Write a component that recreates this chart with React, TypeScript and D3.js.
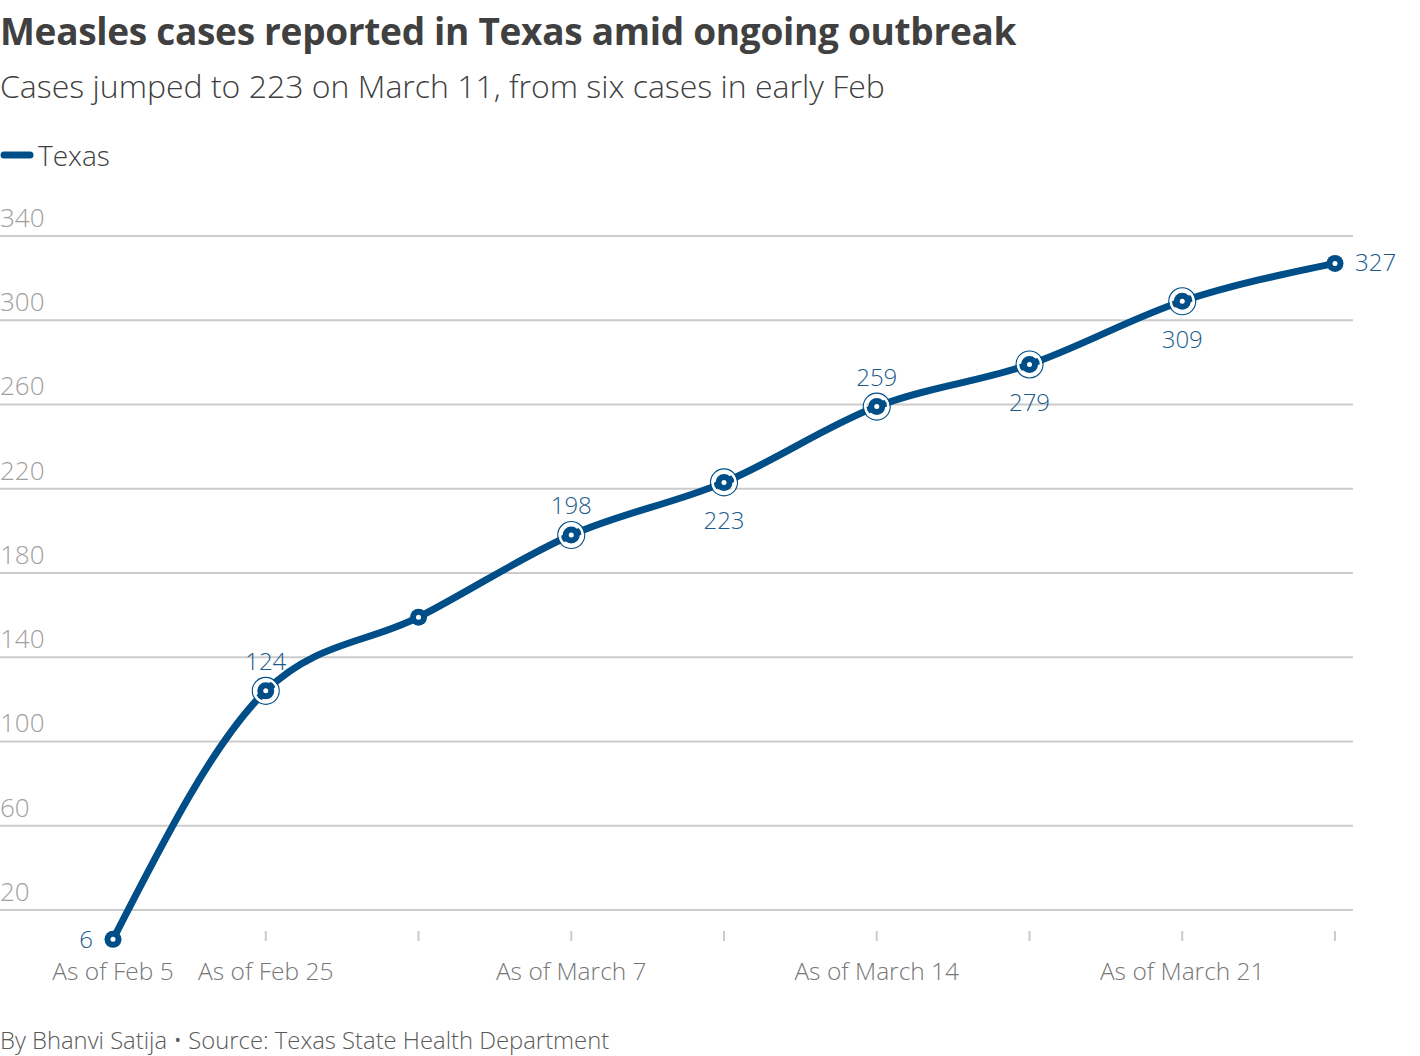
import React from "react";
import * as d3 from "d3";

// Reported measles cases in Texas, by report date
const categories = ["Feb 5", "Feb 25", "Mar 4", "Mar 7", "Mar 11", "Mar 14", "Mar 18", "Mar 21", "Mar 25"];
const cases = [6, 124, 159, 198, 223, 259, 279, 309, 327];
// Where each value label sits relative to its point ("" = no label)
const labelPlacement = ["left", "above", "", "above", "below", "above", "below", "below", "right"];
// X axis labels (only some report dates are labelled)
const xTickLabels = ["As of Feb 5", "As of Feb 25", "", "As of March 7", "", "As of March 14", "", "As of March 21", ""];
const yTicks = [20, 60, 100, 140, 180, 220, 260, 300, 340];

const W = 1420;
const H = 1056;
const BLUE = "#004e87";
const LABEL_BLUE = "#1a5a8d";
const FONT = "'Open Sans', 'Noto Sans', sans-serif";

export default function App() {
  const x = d3.scalePoint<string>().domain(categories).range([113, 1335]);
  const y = d3.scaleLinear().domain([0, 340]).range([952, 236]);

  const pts = categories.map((c, i) => ({ c, v: cases[i], i }));
  const line = d3
    .line<{ c: string; v: number }>()
    .x((d) => x(d.c)!)
    .y((d) => y(d.v))
    .curve(d3.curveMonotoneX);

  return (
    <svg
      width={W}
      height={H}
      viewBox={`0 0 ${W} ${H}`}
      style={{ position: "absolute", left: 0, top: 0, background: "#fff" }}
      fontFamily={FONT}
    >
      {/* Header */}
      <text x={0} y={45} fontSize={37} fontWeight={700} fill="#404040" letterSpacing={-0.3}>
        Measles cases reported in Texas amid ongoing outbreak
      </text>
      <text x={0} y={98} fontSize={32} fontWeight={300} fill="#404040">
        Cases jumped to 223 on March 11, from six cases in early Feb
      </text>

      {/* Legend */}
      <line x1={4} x2={30} y1={155} y2={155} stroke={BLUE} strokeWidth={7} strokeLinecap="round" />
      <text x={38} y={166} fontSize={28} fontWeight={300} fill="#404040">
        Texas
      </text>

      {/* Grid and y labels */}
      {yTicks.map((t) => (
        <g key={t}>
          <line x1={0} x2={1353} y1={y(t)} y2={y(t)} stroke="#cccccc" strokeWidth={2} />
          <text x={0} y={y(t) - 9} fontSize={26} fontWeight={300} fill="#a0a0a0">
            {t}
          </text>
        </g>
      ))}

      {/* X axis ticks and labels */}
      {categories.map((c, i) => (
        <g key={c}>
          <line x1={x(c)!} x2={x(c)!} y1={931} y2={941} stroke="#cccccc" strokeWidth={2} />
          {xTickLabels[i] && (
            <text x={x(c)!} y={980} fontSize={24.5} fontWeight={300} fill="#777777" textAnchor="middle">
              {xTickLabels[i]}
            </text>
          )}
        </g>
      ))}

      {/* Series line */}
      <path d={line(pts) ?? ""} fill="none" stroke={BLUE} strokeWidth={7} strokeLinecap="round" />

      {/* Markers */}
      {pts.map((p) => {
        const cx = x(p.c)!;
        const cy = y(p.v);
        const ringed = labelPlacement[p.i] === "above" || labelPlacement[p.i] === "below";
        return (
          <g key={p.c}>
            {ringed && (
              <>
                <circle cx={cx} cy={cy} r={11.5} fill="none" stroke="#fff" strokeWidth={2.5} />
                <circle cx={cx} cy={cy} r={13.5} fill="none" stroke={BLUE} strokeWidth={1.1} />
              </>
            )}
            <circle cx={cx} cy={cy} r={8.5} fill={BLUE} />
            <circle cx={cx} cy={cy} r={2.5} fill="#fff" />
          </g>
        );
      })}

      {/* Value labels */}
      {pts.map((p) => {
        const pos = labelPlacement[p.i];
        if (!pos) return null;
        const cx = x(p.c)!;
        const cy = y(p.v);
        let tx = cx;
        let ty = cy;
        let anchor: "start" | "middle" | "end" = "middle";
        if (pos === "above") ty = cy - 21;
        else if (pos === "below") ty = cy + 47;
        else if (pos === "left") {
          tx = cx - 20;
          ty = cy + 9;
          anchor = "end";
        } else if (pos === "right") {
          tx = cx + 20;
          ty = cy + 8;
          anchor = "start";
        }
        return (
          <text key={p.c} x={tx} y={ty} fontSize={24} fontWeight={300} fill={LABEL_BLUE} textAnchor={anchor}>
            {p.v}
          </text>
        );
      })}

      {/* Footer */}
      <text x={0} y={1049} fontSize={23.8} fontWeight={300} fill="#5a5a5a">
        By Bhanvi Satija • Source: Texas State Health Department
      </text>
    </svg>
  );
}
